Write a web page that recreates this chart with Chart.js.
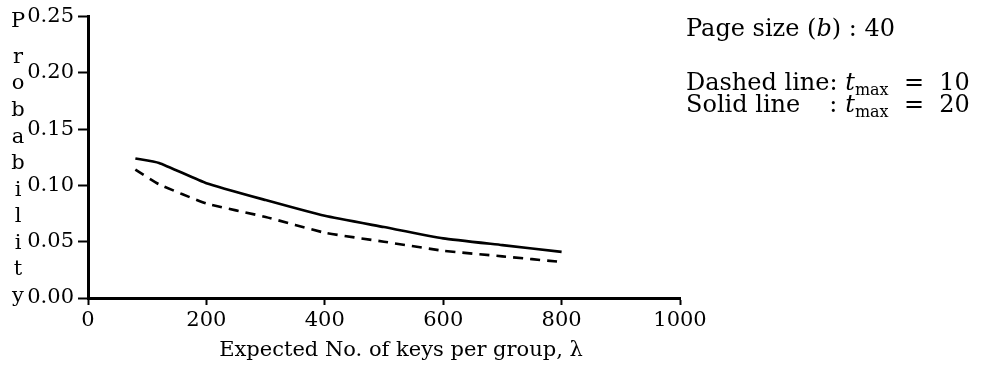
<!DOCTYPE html>
<html>
<head>
<meta charset="utf-8">
<script src="https://cdn.jsdelivr.net/npm/chart.js@4.4.0/dist/chart.umd.min.js"></script>
<style>
  html, body { margin: 0; padding: 0; background: #fff; }
  #wrap { width: 982px; height: 379px; }
</style>
</head>
<body>
<div id="wrap"><canvas id="probChart"></canvas></div>
<script>
// expected keys per group (lambda) and failure probability for each t_max
const keysPerGroup = [80, 120, 200, 300, 400, 500, 600, 700, 800];
const probTmax20 = [0.124, 0.120, 0.102, 0.087, 0.073, 0.063, 0.053, 0.047, 0.041];
const probTmax10 = [0.114, 0.101, 0.084, 0.072, 0.058, 0.050, 0.042, 0.037, 0.032];

const xTicks = [0, 200, 400, 600, 800, 1000];
const yTicks = [0, 0.05, 0.10, 0.15, 0.20, 0.25];

const yTitle = 'Probability';
const xTitle = 'Expected No. of keys per group, λ';
const pageSize = 40;
const tmaxDashed = 10;
const tmaxSolid = 20;

const FONT = "'DejaVu Serif', 'Liberation Serif', serif";
const FS = 21;
const NOTE_FS = 24;

// text labels: stacked y title, x title, and the parameter notes on the right
const notesPlugin = {
    id: 'notes',
    afterDraw(chart) {
        const ctx = chart.ctx;
        const y = chart.scales.y;
        ctx.save();
        ctx.fillStyle = '#000';
        ctx.font = FS + 'px ' + FONT;

        // one letter per row down the left side
        ctx.textAlign = 'center';
        ctx.textBaseline = 'alphabetic';
        const letters = yTitle.split('');
        letters.forEach((ch, i) => {
            let py;
            if (i === 0) {
                py = y.getPixelForValue(0.25) + 10;
            } else {
                const v = 0.2125 * (letters.length - 1 - i) / (letters.length - 2);
                py = y.getPixelForValue(v) + 4;
            }
            ctx.fillText(ch, 18, py);
        });

        // x axis title
        ctx.fillText(xTitle, 401, 356);

        // notes, drawn piece by piece for italics and subscripts
        ctx.textAlign = 'left';
        const run = (parts, x0, base) => {
            let x = x0;
            parts.forEach(p => {
                ctx.font = (p.it ? 'italic ' : '') + (p.size || NOTE_FS) + 'px ' + FONT;
                if (p.at) x = p.at;
                ctx.fillText(p.t, x, base + (p.dy || 0));
                x += ctx.measureText(p.t).width;
            });
            return x;
        };
        const nx = 686;
        run([{ t: 'Page size (' }, { t: 'b', it: true }, { t: ') : ' + pageSize }], nx, 36);
        ctx.font = NOTE_FS + 'px ' + FONT;
        const tx = nx + ctx.measureText('Dashed line: ').width;
        run([{ t: 'Dashed line: ' }, { t: 't', it: true }, { t: 'max', size: 16, dy: 5 },
             { t: '  =  ' + tmaxDashed }], nx, 90);
        run([{ t: 'Solid line' }, { t: ':', at: tx - 16 }, { t: 't', it: true, at: tx },
             { t: 'max', size: 16, dy: 5 }, { t: '  =  ' + tmaxSolid }], nx, 112);
        ctx.restore();
    }
};

new Chart(document.getElementById('probChart'), {
    type: 'line',
    data: {
        datasets: [
            {
                label: 't_max = 20',
                data: keysPerGroup.map((k, i) => ({ x: k, y: probTmax20[i] })),
                borderColor: '#000',
                borderWidth: 2.6,
                pointRadius: 0,
                tension: 0.15
            },
            {
                label: 't_max = 10',
                data: keysPerGroup.map((k, i) => ({ x: k, y: probTmax10[i] })),
                borderColor: '#000',
                borderWidth: 2.6,
                borderDash: [10, 7],
                pointRadius: 0,
                tension: 0.15
            }
        ]
    },
    options: {
        responsive: true,
        maintainAspectRatio: false,
        animation: false,
        layout: { padding: { left: 0, top: 15, right: 302, bottom: 0 } },
        plugins: {
            legend: { display: false },
            tooltip: { enabled: false }
        },
        scales: {
            x: {
                type: 'linear',
                min: 0,
                max: 1000,
                afterBuildTicks: s => { s.ticks = xTicks.map(v => ({ value: v })); },
                afterFit: s => { s.height = 81; },
                border: { display: true, color: '#000', width: 3 },
                grid: { drawOnChartArea: false, drawTicks: true, tickLength: 7, tickColor: '#000', tickWidth: 2 },
                ticks: {
                    color: '#000',
                    padding: 3,
                    maxRotation: 0,
                    font: { family: FONT, size: FS },
                    callback: v => String(v)
                }
            },
            y: {
                min: 0,
                max: 0.25,
                afterBuildTicks: s => { s.ticks = yTicks.map(v => ({ value: v })); },
                afterFit: s => { s.width = 88; },
                border: { display: true, color: '#000', width: 3 },
                grid: { drawOnChartArea: false, drawTicks: true, tickLength: 10, tickColor: '#000', tickWidth: 2 },
                ticks: {
                    color: '#000',
                    padding: 4,
                    font: { family: FONT, size: FS },
                    callback: v => v.toFixed(2)
                }
            }
        }
    },
    plugins: [notesPlugin]
});
</script>
</body>
</html>
